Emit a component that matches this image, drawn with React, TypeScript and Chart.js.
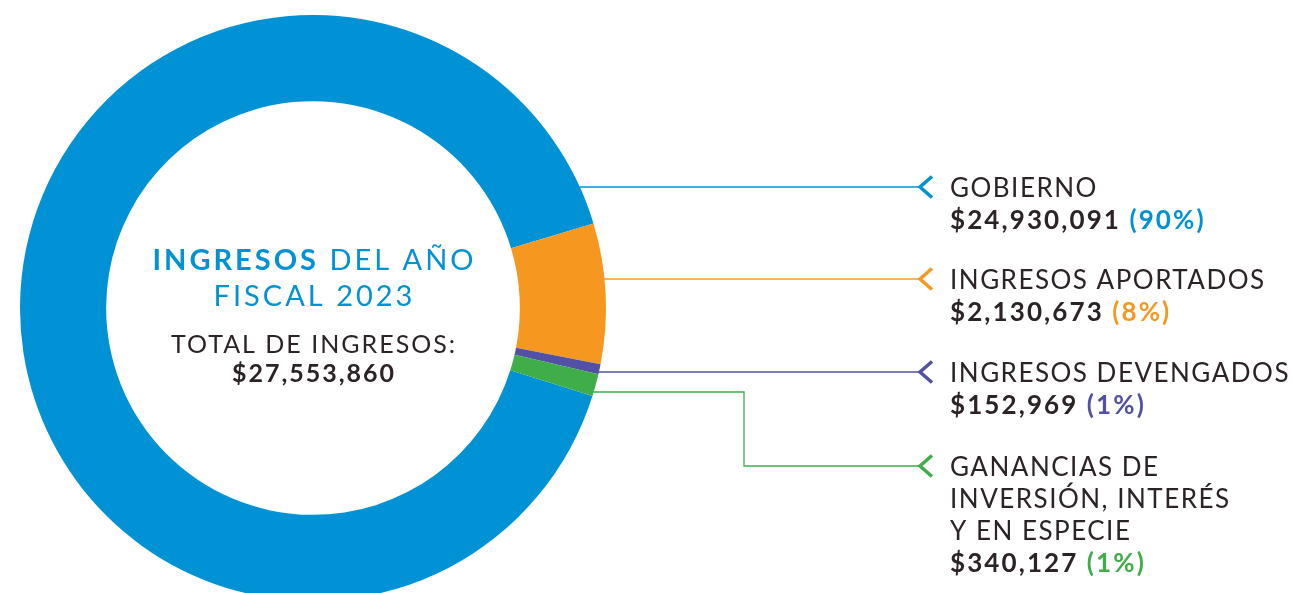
import React, { useEffect, useRef } from 'react';
import { Chart, ArcElement, DoughnutController } from 'chart.js';

Chart.register(ArcElement, DoughnutController);

// ---- data ----
const categories = ['GOBIERNO', 'INGRESOS APORTADOS', 'INGRESOS DEVENGADOS', 'GANANCIAS DE INVERSIÓN, INTERÉS Y EN ESPECIE'];
const categoryLines = [['GOBIERNO'], ['INGRESOS APORTADOS'], ['INGRESOS DEVENGADOS'], ['GANANCIAS DE', 'INVERSIÓN, INTERÉS', 'Y EN ESPECIE']];
const values = [24930091, 2130673, 152969, 340127];
const colors = ['#0092D5', '#F6981F', '#5251A4', '#3FAE49'];
const titleBold = 'INGRESOS';
const titleRest = ' DEL AÑO';
const titleLine2 = 'FISCAL 2023';
const totalCaption = 'TOTAL DE INGRESOS:';

// ---- layout ----
const W = 1293;
const H = 620;
const FONT = 'Lato, "Open Sans", sans-serif';
const DARK = '#2B2326';
const leaderY = [187, 279, 372, 466];
const leaderStartY = [187, 279, 372, 392];
const elbowX = 744;
const tipX = 920;
const textX = 950;
const lineGap = 32;

function spacing(ctx: any, v: string) {
  try { ctx.letterSpacing = v; } catch (e) { /* ignore */ }
}

const overlay = {
  id: 'overlay',
  afterDraw(chart: any) {
    const ctx: CanvasRenderingContext2D = chart.ctx;
    const arc: any = chart.getDatasetMeta(0).data[0];
    if (!arc) return;
    const cx = arc.x;
    const cy = arc.y;
    const R = arc.outerRadius;
    const total = values.reduce((a, b) => a + b, 0);
    ctx.save();
    ctx.textBaseline = 'alphabetic';

    // centre text
    spacing(ctx, '3px');
    const tBold = `700 29px ${FONT}`;
    const tReg = `400 29px ${FONT}`;
    ctx.font = tBold;
    const wb = ctx.measureText(titleBold).width;
    ctx.font = tReg;
    const wr = ctx.measureText(titleRest).width;
    const x0 = cx - (wb + wr) / 2 + 1.5;
    ctx.textAlign = 'left';
    ctx.fillStyle = colors[0];
    ctx.font = tBold;
    ctx.fillText(titleBold, x0, cy - 38);
    ctx.font = tReg;
    ctx.fillText(titleRest, x0 + wb, cy - 38);
    ctx.textAlign = 'center';
    ctx.fillText(titleLine2, cx + 1.5, cy - 2);
    spacing(ctx, '2px');
    ctx.fillStyle = DARK;
    ctx.font = `400 25px ${FONT}`;
    ctx.fillText(totalCaption, cx + 1, cy + 45);
    ctx.font = `700 25px ${FONT}`;
    ctx.fillText('$' + total.toLocaleString('en-US'), cx + 1, cy + 74);

    // leaders and labels
    ctx.textAlign = 'left';
    values.forEach((v, i) => {
      const col = colors[i];
      const ys = leaderStartY[i];
      const ye = leaderY[i];
      const xs = cx + Math.sqrt(Math.max(R * R - (ys - cy) * (ys - cy), 0)) - 0.5;
      ctx.strokeStyle = col;
      ctx.lineWidth = 1.3;
      ctx.beginPath();
      ctx.moveTo(xs, ys);
      if (ys !== ye) {
        ctx.lineTo(elbowX, ys);
        ctx.lineTo(elbowX, ye);
      }
      ctx.lineTo(tipX, ye);
      ctx.stroke();
      // chevron
      ctx.lineWidth = 3.5;
      ctx.lineJoin = 'miter';
      ctx.beginPath();
      ctx.moveTo(tipX + 12, ye - 10.5);
      ctx.lineTo(tipX, ye);
      ctx.lineTo(tipX + 12, ye + 10.5);
      ctx.stroke();

      spacing(ctx, '1.5px');
      const lines = categoryLines[i];
      let by = ye + 10;
      ctx.fillStyle = DARK;
      ctx.font = `400 26px ${FONT}`;
      lines.forEach((ln, k) => {
        ctx.fillText(ln, textX, by + k * lineGap);
      });
      by += lines.length * lineGap;
      spacing(ctx, '2.1px');
      ctx.font = `700 26px ${FONT}`;
      const amount = '$' + v.toLocaleString('en-US');
      ctx.fillText(amount, textX, by);
      const aw = ctx.measureText(amount + ' ').width;
      ctx.fillStyle = col;
      ctx.fillText('(' + Math.round((v / total) * 100) + '%)', textX + aw, by);
    });
    ctx.restore();
  },
};

export default function App() {
  const ref = useRef<HTMLCanvasElement | null>(null);
  useEffect(() => {
    if (!ref.current) return;
    const chart = new Chart(ref.current, {
      type: 'doughnut',
      data: {
        labels: categories,
        datasets: [
          {
            data: values,
            backgroundColor: colors,
            borderWidth: 0,
            hoverBorderWidth: 0,
            hoverOffset: 0,
          },
        ],
      },
      options: {
        responsive: false,
        animation: false,
        events: [],
        cutout: '70.6%',
        rotation: 107.5,
        layout: { padding: { left: 20, top: 15, right: W - 606, bottom: H - 601 } },
        plugins: { legend: { display: false }, tooltip: { enabled: false } } as any,
      },
      plugins: [overlay],
    });
    return () => chart.destroy();
  }, []);
  return (
    <div style={{ position: 'fixed', left: 0, top: 0, width: W, height: 593, overflow: 'hidden', background: '#fff' }}>
      <canvas ref={ref} width={W} height={H} />
    </div>
  );
}
